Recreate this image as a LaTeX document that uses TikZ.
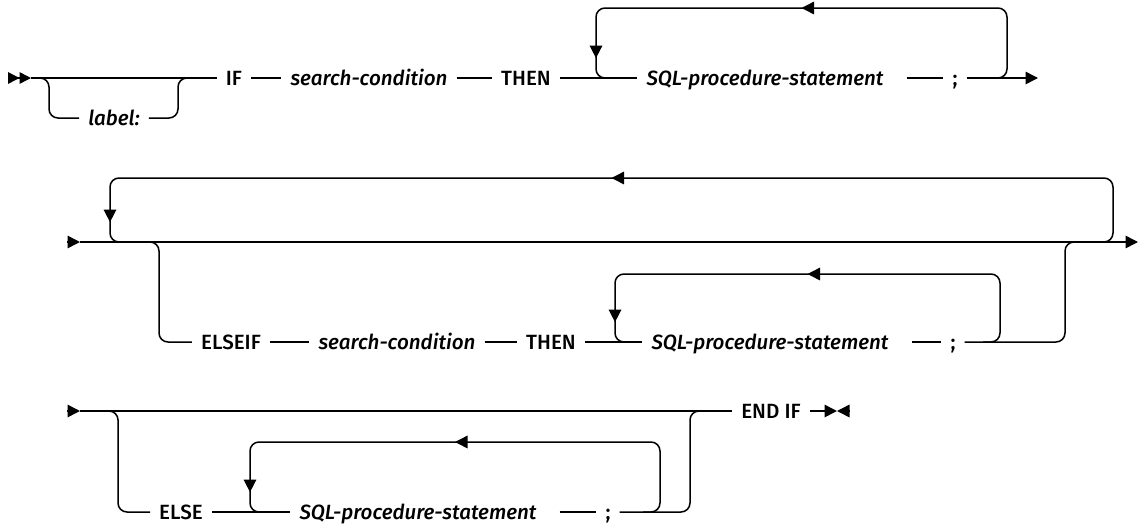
\documentclass[tikz,border=0pt]{standalone}
\usepackage{fontspec}
\setmainfont{Fira Sans}[BoldFont={Fira Sans Medium},BoldItalicFont={Fira Sans Medium Italic}]
\usetikzlibrary{arrows.meta,decorations.markings}

\tikzset{
  rail/.style={line width=1.5pt, rounded corners=9pt},
  railtip/.style={-{Triangle[length=12.5pt,width=12.5pt]}},
  kw/.style={inner xsep=9pt, inner ysep=0pt, text height=14.2pt, text depth=0pt,
    font=\fontsize{20.6}{24}\selectfont\bfseries},
  var/.style={kw, font=\fontsize{20.6}{24}\selectfont\bfseries\itshape},
  loopflow/.style={postaction={decorate}, decoration={markings,
    mark=at position 0.5 with {\arrow{Triangle[length=12.5pt,width=12.5pt]}},
    mark=at position -33pt with {\arrow{Triangle[length=12.5pt,width=12.5pt]}}}},
}

\begin{document}
\begin{tikzpicture}[x=1pt, y=-1pt]
    \useasboundingbox (0,0) rectangle (1138,523);

    % Row 1
    \node[kw] (if1) at (234,78) {IF};
    \node[var] (cond1) at (369,78) {search-condition};
    \node[kw] (then1) at (526,78) {THEN};
    \node[var] (stmt1) at (765,78) {SQL-procedure-statement};
    \node[kw] (semi1) at (955,78) {;};
    \node[var] (lab) at (114,118) {label:};
    \coordinate (st0) at (8,78);
    \coordinate (st1) at (31,78);
    \coordinate (lbA) at (38,78);
    \coordinate (lbB) at (49,118);
    \coordinate (lbC) at (178,78);
    \coordinate (lbD) at (190,78);
    \coordinate (l1a) at (990,78);
    \coordinate (l1b) at (1007,8);
    \coordinate (l1c) at (596,78);
    \coordinate (l1d) at (613,78);
    \coordinate (e1) at (1038,78);

    \draw[rail, -{Triangle[length=11.5pt,width=11.5pt] Triangle[length=11.5pt,width=11.5pt]}] (st0) -- (st1);
    \draw[rail] (st1) -- (if1.west);
    \draw[rail] (lbA) -| (lbB) -- (lab.west);
    \draw[rail] (lab.east) -| (lbC) -- (lbD);
    \draw[rail] (if1.east) -- (cond1.west);
    \draw[rail] (cond1.east) -- (then1.west);
    \draw[rail] (then1.east) -- (stmt1.west);
    \draw[rail] ([xshift=14pt]stmt1.east) -- (semi1.west);
    \draw[rail, railtip] (semi1.east) -- (e1);
    \draw[rail, loopflow] (l1a) -| (l1b) -| (l1c) -- (l1d);

    % Row 2 and 3
    \node[kw] (elif) at (231,342) {ELSEIF};
    \node[var] (cond2) at (397,342) {search-condition};
    \node[kw] (then2) at (551,342) {THEN};
    \node[var] (stmt2) at (770,342) {SQL-procedure-statement};
    \node[kw] (semi2) at (953,342) {;};
    \coordinate (s2a) at (67,242);
    \coordinate (s2b) at (80,242);
    \coordinate (e2) at (1138,242);
    \coordinate (l2a) at (1096,242);
    \coordinate (l2b) at (1113,178);
    \coordinate (l2c) at (110,242);
    \coordinate (l2d) at (127,242);
    \coordinate (b2a) at (142,242);
    \coordinate (b2b) at (159,342);
    \coordinate (b2c) at (1065,242);
    \coordinate (b2d) at (1082,242);
    \coordinate (l3a) at (983,342);
    \coordinate (l3b) at (1000,274);
    \coordinate (l3c) at (615,342);
    \coordinate (l3d) at (632,342);

    \draw[rail, railtip] (s2a) -- (s2b);
    \draw[rail, railtip] (s2b) -- (e2);
    \draw[rail, loopflow] (l2a) -| (l2b) -| (l2c) -- (l2d);
    \draw[rail] (b2a) -| (b2b) -- (elif.west);
    \draw[rail] (elif.east) -- (cond2.west);
    \draw[rail] (cond2.east) -- (then2.west);
    \draw[rail] (then2.east) -- (stmt2.west);
    \draw[rail] ([xshift=14pt]stmt2.east) -- (semi2.west);
    \draw[rail] (semi2.east) -| (b2c) -- (b2d);
    \draw[rail, loopflow] (l3a) -| (l3b) -| (l3c) -- (l3d);

    % Row 4 and 5
    \node[kw] (endif) at (771,411) {END IF};
    \node[kw] (els) at (181,512) {ELSE};
    \node[var] (stmt3) at (418,512) {SQL-procedure-statement};
    \node[kw] (semi3) at (608,512) {;};
    \coordinate (s4a) at (67,411);
    \coordinate (s4b) at (80,411);
    \coordinate (b4a) at (101,411);
    \coordinate (b4b) at (118,512);
    \coordinate (b4c) at (690,411);
    \coordinate (b4d) at (707,411);
    \coordinate (l5a) at (643,512);
    \coordinate (l5b) at (660,442);
    \coordinate (l5c) at (250,512);
    \coordinate (l5d) at (267,512);
    \coordinate (fin) at (837,411);
    \coordinate (finr) at (849,411);

    \draw[rail, railtip] (s4a) -- (s4b);
    \draw[rail] (s4b) -- (endif.west);
    \draw[rail] (b4a) -| (b4b) -- (els.west);
    \draw[rail] (els.east) -- (stmt3.west);
    \draw[rail] ([xshift=14pt]stmt3.east) -- (semi3.west);
    \draw[rail] (semi3.east) -| (b4c) -- (b4d);
    \draw[rail, loopflow] (l5a) -| (l5b) -| (l5c) -- (l5d);
    \draw[rail, railtip] (endif.east) -- (fin);
    \draw[rail, railtip] (finr) -- (fin);
\end{tikzpicture}
\end{document}
